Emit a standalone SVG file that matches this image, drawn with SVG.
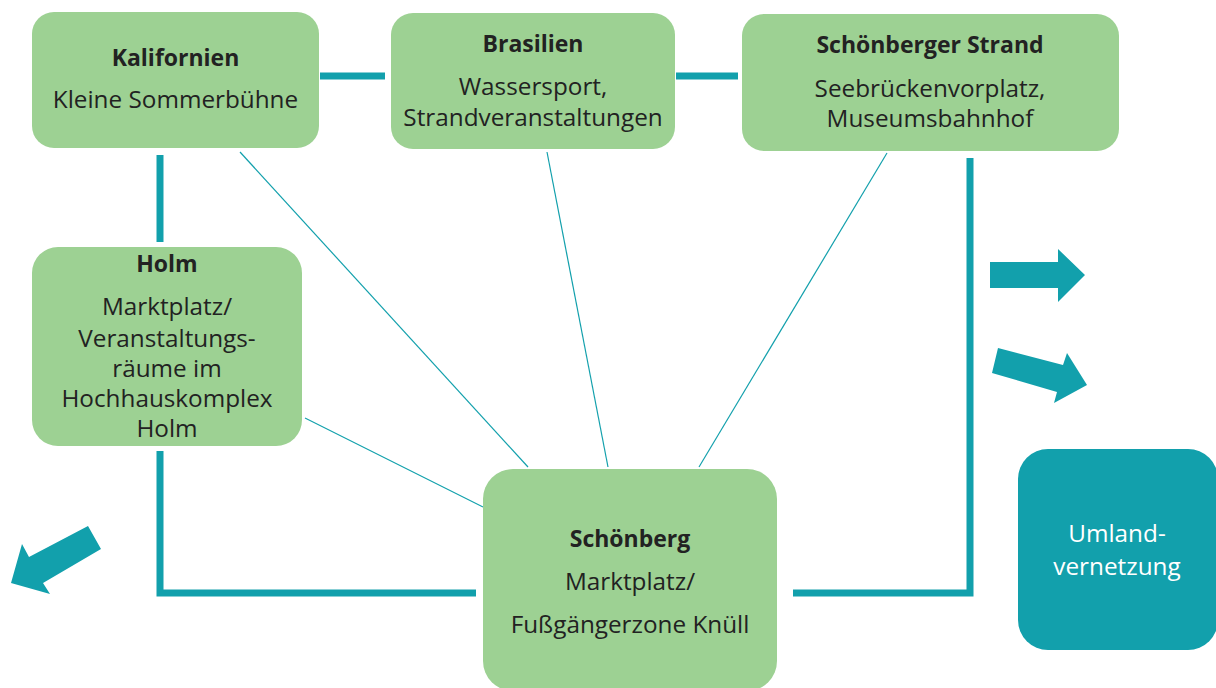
<svg xmlns="http://www.w3.org/2000/svg" width="1216" height="688" viewBox="0 0 1216 688">
<style>
.box{fill:#9DD193;}
.t{font-family:"Open Sans","Liberation Sans",sans-serif;font-size:24.3px;fill:#222;text-anchor:middle;}
.b{font-weight:bold;font-size:23px;}
.thick{fill:none;stroke:#12A0AC;stroke-width:7;}
.thin{fill:none;stroke:#12A0AC;stroke-width:1.2;}
.arrow{fill:#12A0AC;}
.w{font-family:"Open Sans","Liberation Sans",sans-serif;font-size:24.3px;fill:#fff;text-anchor:middle;}
</style>
<rect width="1216" height="688" fill="#fff"/>
<g id="connectors">
<line class="thick" x1="320" y1="76" x2="385" y2="76"/>
<line class="thick" x1="676" y1="76" x2="738" y2="76"/>
<line class="thick" x1="160" y1="155" x2="160" y2="242"/>
<polyline class="thick" points="160,451 160,593 476,593" stroke-width="6"/>
<polyline class="thick" points="793,593 970,593 970,158" stroke-width="6"/>
<line class="thin" x1="240" y1="152" x2="528" y2="467"/>
<line class="thin" x1="547" y1="152" x2="608" y2="467"/>
<line class="thin" x1="887" y1="153" x2="699" y2="467"/>
<line class="thin" x1="305" y1="418" x2="483" y2="507"/>
<polygon class="arrow" points="88,526 29,557 22,544 11,583 50,594 43,583 101,549"/>
<polygon class="arrow" points="990,262 1058,262 1058,249 1085,275 1058,302 1058,288 990,288"/>
<polygon class="arrow" points="998,348 1063,365 1067,353 1087,385 1054,403 1057,392 992,373"/>
</g>
<g id="kalifornien">
<rect class="box" x="32" y="12" width="287" height="136" rx="22"/>
<text class="t b" x="175.5" y="66">Kalifornien</text>
<text class="t" x="175.5" y="108">Kleine Sommerbühne</text>
</g>
<g id="brasilien">
<rect class="box" x="391" y="13" width="284" height="136" rx="22"/>
<text class="t b" x="533" y="52">Brasilien</text>
<text class="t" x="533" y="95">Wassersport,</text>
<text class="t" x="533" y="126">Strandveranstaltungen</text>
</g>
<g id="strand">
<rect class="box" x="742" y="14" width="377" height="137" rx="22"/>
<text class="t b" x="930" y="53">Schönberger Strand</text>
<text class="t" x="930" y="97">Seebrückenvorplatz,</text>
<text class="t" x="930" y="127">Museumsbahnhof</text>
</g>
<g id="holm">
<rect class="box" x="32" y="247" width="270" height="199" rx="26"/>
<text class="t b" x="167" y="272">Holm</text>
<text class="t" x="167" y="315">Marktplatz/</text>
<text class="t" x="167" y="347">Veranstaltungs-</text>
<text class="t" x="167" y="377">räume im</text>
<text class="t" x="167" y="407">Hochhauskomplex</text>
<text class="t" x="167" y="437">Holm</text>
</g>
<g id="schoenberg">
<rect class="box" x="483" y="469" width="294" height="222" rx="30"/>
<text class="t b" x="630" y="547">Schönberg</text>
<text class="t" x="630" y="590">Marktplatz/</text>
<text class="t" x="630" y="633">Fußgängerzone Knüll</text>
</g>
<g id="umland">
<rect x="1018" y="449" width="200" height="201" rx="30" fill="#12A0AC"/>
<text class="w" x="1117" y="542">Umland-</text>
<text class="w" x="1117" y="575">vernetzung</text>
</g>
</svg>
